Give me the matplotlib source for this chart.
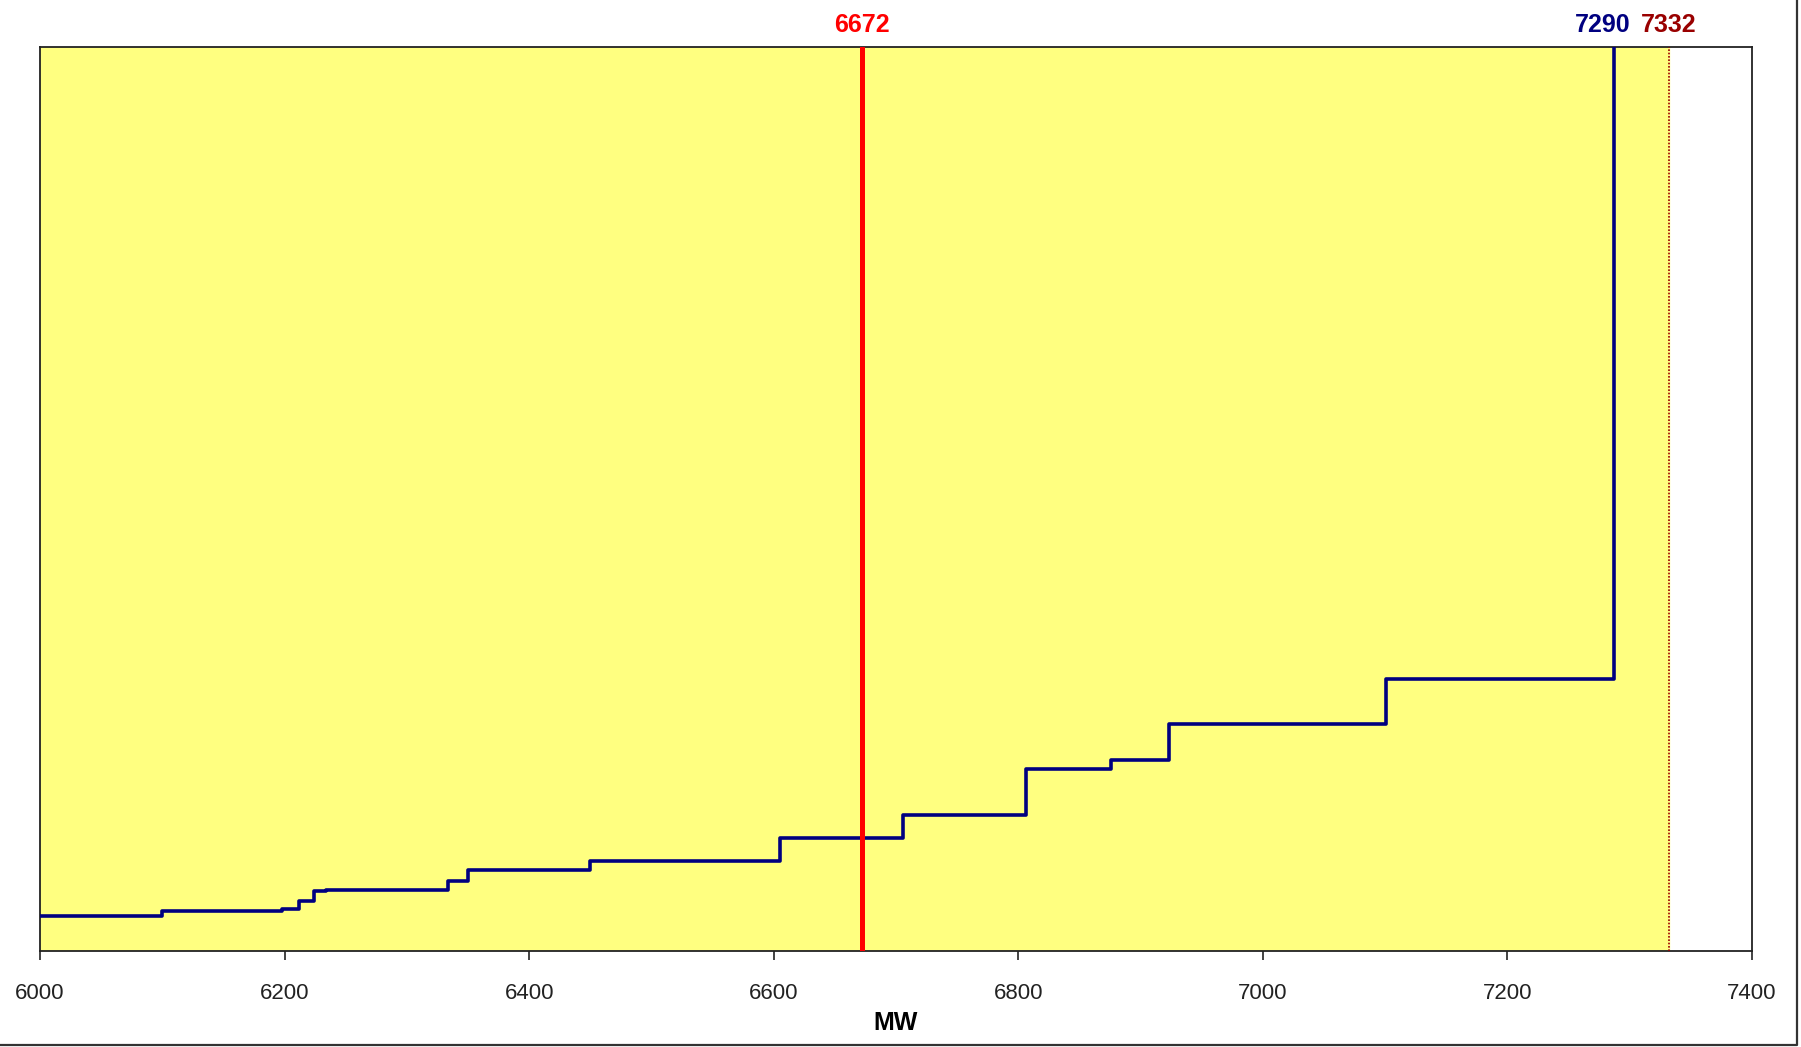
import matplotlib.pyplot as plt
from matplotlib.lines import Line2D

# supply curve steps (MW where each step starts, level on an arbitrary 0-100 scale)
step_mw = [6000, 6100, 6198, 6212, 6224, 6234, 6334, 6350, 6450, 6605,
           6706, 6806, 6876, 6923, 7101, 7287]
step_level = [3.9, 4.4, 4.6, 5.5, 6.6, 6.8, 7.7, 9.0, 10.0, 12.5,
              15.0, 20.1, 21.1, 25.1, 30.1, 120]

demand_mw = 6672
cleared_label = "7290"
cleared_mw = 7287
capacity_mw = 7332

xticks = [6000, 6200, 6400, 6600, 6800, 7000, 7200, 7400]

plt.rcParams['font.family'] = ['Liberation Sans', 'DejaVu Sans']

fig = plt.figure(figsize=(18.01, 10.47), dpi=100)
ax = fig.add_axes([40 / 1801, 96 / 1047, 1712 / 1801, 904 / 1047])

# chart area border: only right and bottom edges show
fig.lines.append(Line2D([0, 1797 / 1801, 1797 / 1801], [2 / 1047, 2 / 1047, 1],
                        transform=fig.transFigure, color='#333333', linewidth=1.6))

ax.set_facecolor('white')
ax.axvspan(6000, capacity_mw, color='#FFFF80', zorder=0)

ax.step(step_mw, step_level, where='post', color='#000080', linewidth=2.6, zorder=3)
ax.axvline(demand_mw, color='#FF0000', linewidth=3.6, zorder=4)
ax.axvline(capacity_mw, color='#990000', linewidth=1.2, linestyle=(0, (1, 1)), zorder=4)

ax.set_xlim(6000, 7400)
ax.set_ylim(0, 100)
ax.set_xticks(xticks)
ax.set_yticks([])
ax.tick_params(axis='x', direction='out', length=6.5, width=1.2, labelsize=16,
               pad=16.5, colors='#222222')
ax.set_xlabel("MW", fontsize=18, fontweight='bold', labelpad=5)
for sp in ax.spines.values():
    sp.set_color('#222222')
    sp.set_linewidth(1.3)

top_font = ['Liberation Sans Narrow', 'Liberation Sans', 'DejaVu Sans']
ax.annotate(str(demand_mw), xy=(demand_mw, 1), xycoords=('data', 'axes fraction'),
            xytext=(0, 16), textcoords='offset points', ha='center', va='center',
            color='#FF0000', fontsize=18, fontweight='bold', family=top_font)
ax.annotate(cleared_label, xy=(cleared_mw, 1), xycoords=('data', 'axes fraction'),
            xytext=(-8, 16), textcoords='offset points', ha='center', va='center',
            color='#000080', fontsize=18, fontweight='bold', family=top_font)
ax.annotate(str(capacity_mw), xy=(capacity_mw, 1), xycoords=('data', 'axes fraction'),
            xytext=(0, 16), textcoords='offset points', ha='center', va='center',
            color='#990000', fontsize=18, fontweight='bold', family=top_font)

plt.savefig("out.png", dpi=100)
